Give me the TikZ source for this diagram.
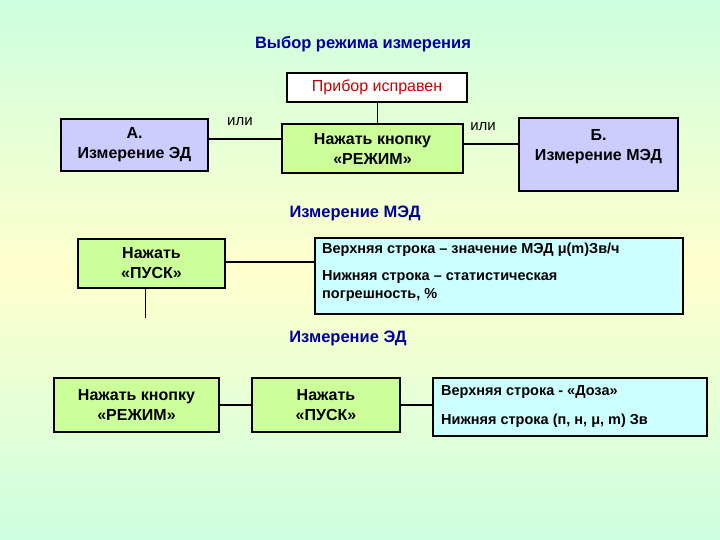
\documentclass[tikz,border=0pt]{standalone}
\usepackage{fontspec}
\setmainfont{Liberation Sans}
\begin{document}
\begin{tikzpicture}[x=1pt,y=-1pt,
  box/.style={draw=black,line width=2pt,inner sep=0pt,anchor=north west,align=center,font=\bfseries\fontsize{16}{20}\selectfont},
  lav/.style={box,fill={rgb,255:red,204;green,204;blue,255}},
  grn/.style={box,fill={rgb,255:red,204;green,255;blue,153}},
  inf/.style={box,fill={rgb,255:red,204;green,255;blue,255}},
  itx/.style={anchor=west,inner sep=0pt,font=\bfseries\fontsize{14.5}{18}\selectfont},
  ttl/.style={font=\bfseries\fontsize{16.5}{20}\selectfont,text={rgb,255:red,0;green,0;blue,153}},
  conn/.style={line width=2pt}]
\begin{scope}
\clip (0,0) rectangle (720,540);
\shade[rotate around={36.9:(360,270)},top color={rgb,255:red,110;green,255;blue,255},bottom color={rgb,255:red,110;green,255;blue,255},middle color={rgb,255:red,255;green,255;blue,205}] (-340,-180) rectangle (1060,720);
\end{scope}
\useasboundingbox (0,0) rectangle (720,540);
\node[ttl] (t1) at (363,44) {Выбор режима измерения};
\node[box,fill=white,line width=2pt,minimum width=180pt,minimum height=29pt,text={rgb,255:red,204;green,0;blue,0},font=\fontsize{16}{20}\selectfont] (pr) at (286,72) {Прибор исправен};
\node[lav,minimum width=147pt,minimum height=52pt] (a) at (60,118) {А.\\Измерение ЭД};
\node[grn,minimum width=181pt,minimum height=49pt] (r) at (281,123) {Нажать кнопку\\«РЕЖИМ»};
\node[lav,minimum width=159pt,minimum height=73pt,text depth=20pt] (b) at (518,117) {Б.\\Измерение МЭД};
\draw[line width=0.8pt] (pr.south) -- (pr.south |- r.north);
\coordinate (a1) at (207,139); \coordinate (r1) at (281,139);
\draw[conn] (a1) -- (r1);
\coordinate (r2) at (462,144); \coordinate (b1) at (518,144);
\draw[conn] (r2) -- (b1);
\node[font=\fontsize{15}{18}\selectfont] (or1) at (240,122) {или};
\node[font=\fontsize{15}{18}\selectfont] (or2) at (483,127) {или};
\node[ttl] (t2) at (355,213) {Измерение МЭД};
\node[grn,minimum width=147pt,minimum height=49pt] (p1) at (77,238) {Нажать\\«ПУСК»};
\node[inf,minimum width=368pt,minimum height=76pt] (i1) at (314,237) {};
\node[itx] (l1) at (322,250) {Верхняя строка – значение МЭД μ(m)Зв/ч};
\node[itx,anchor=north west,align=left] (l2) at (322,270) {Нижняя строка – статистическая\\погрешность, \%};
\coordinate (p1r) at (224,262); \coordinate (i1l) at (314,262);
\draw[conn] (p1r) -- (i1l);
\coordinate (v1) at (145,287); \coordinate (v2) at (145,318);
\draw[line width=1pt] (v1) -- (v2);
\node[ttl] (t3) at (348,338) {Измерение ЭД};
\node[grn,minimum width=165pt,minimum height=54pt] (r2b) at (53,377) {Нажать кнопку\\«РЕЖИМ»};
\node[grn,minimum width=148pt,minimum height=54pt] (p2) at (251,377) {Нажать\\«ПУСК»};
\node[inf,minimum width=274pt,minimum height=58pt] (i2) at (432,377) {};
\node[itx] (m1) at (441,392) {Верхняя строка - «Доза»};
\node[itx] (m2) at (441,421) {Нижняя строка (п, н, μ, m) Зв};
\draw[conn] (r2b.east) -- (p2.west);
\draw[conn] (p2.east) -- (p2.east -| i2.west);
\end{tikzpicture}
\end{document}
